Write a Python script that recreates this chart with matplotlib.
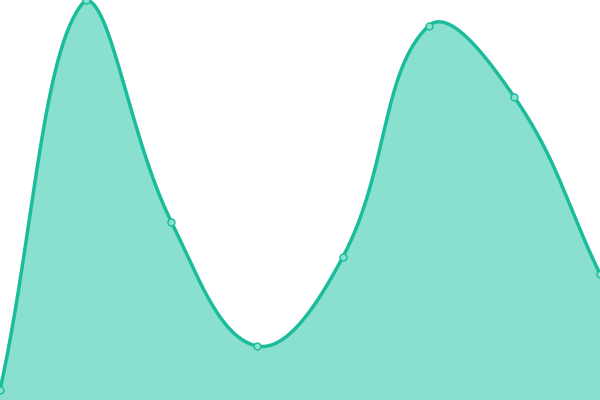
import numpy as np
import matplotlib
matplotlib.use("Agg")
import matplotlib.pyplot as plt

categories = ["A", "B", "C", "D", "E", "F", "G", "H"]
values = [10, 400, 178, 54, 143, 374, 303, 126]

W, H = 600, 400
YMAX = 400
LINE = "#1ABC9C"
FILL = "#8AE0CF"


def spline(xs, ys, t=0.4):
    n = len(xs)
    cps = []
    for i in range(n):
        p0 = (xs[max(i - 1, 0)], ys[max(i - 1, 0)])
        p1 = (xs[i], ys[i])
        p2 = (xs[min(i + 1, n - 1)], ys[min(i + 1, n - 1)])
        d01 = np.hypot(p1[0] - p0[0], p1[1] - p0[1])
        d12 = np.hypot(p2[0] - p1[0], p2[1] - p1[1])
        s01 = d01 / (d01 + d12) if d01 + d12 else 0
        s12 = d12 / (d01 + d12) if d01 + d12 else 0
        fa, fb = t * s01, t * s12
        prev = (p1[0] - fa * (p2[0] - p0[0]), p1[1] - fa * (p2[1] - p0[1]))
        nxt = (p1[0] + fb * (p2[0] - p0[0]), p1[1] + fb * (p2[1] - p0[1]))
        clamp = lambda p: (min(max(p[0], 0), W), min(max(p[1], 0), H))
        cps.append((clamp(prev), clamp(nxt)))
    px, py = [], []
    tt = np.linspace(0, 1, 60)
    for i in range(n - 1):
        P0 = np.array([xs[i], ys[i]])
        P1 = np.array(cps[i][1])
        P2 = np.array(cps[i + 1][0])
        P3 = np.array([xs[i + 1], ys[i + 1]])
        for u in tt:
            b = (1 - u) ** 3 * P0 + 3 * (1 - u) ** 2 * u * P1 + 3 * (1 - u) * u ** 2 * P2 + u ** 3 * P3
            px.append(b[0]); py.append(b[1])
    return np.array(px), np.array(py)


fig = plt.figure(figsize=(6, 4), dpi=100)
ax = fig.add_axes([0, 0, 1, 1])
n = len(values)
xpix = np.arange(n) * W / (n - 1)
ypix = np.array(values) * H / YMAX
cx, cy = spline(xpix, ypix)
ax.fill_between(cx, 0, cy, color=FILL, lw=0, zorder=1)
ax.plot(cx, cy, color=LINE, lw=2.5, zorder=2, solid_capstyle="round")
ax.plot(xpix, ypix, "o", ms=5, mfc=FILL, mec=LINE, mew=1, zorder=3, clip_on=False)
ax.set_xlim(0, W)
ax.set_ylim(0, H)
ax.axis("off")
fig.savefig("out.png", dpi=100)
